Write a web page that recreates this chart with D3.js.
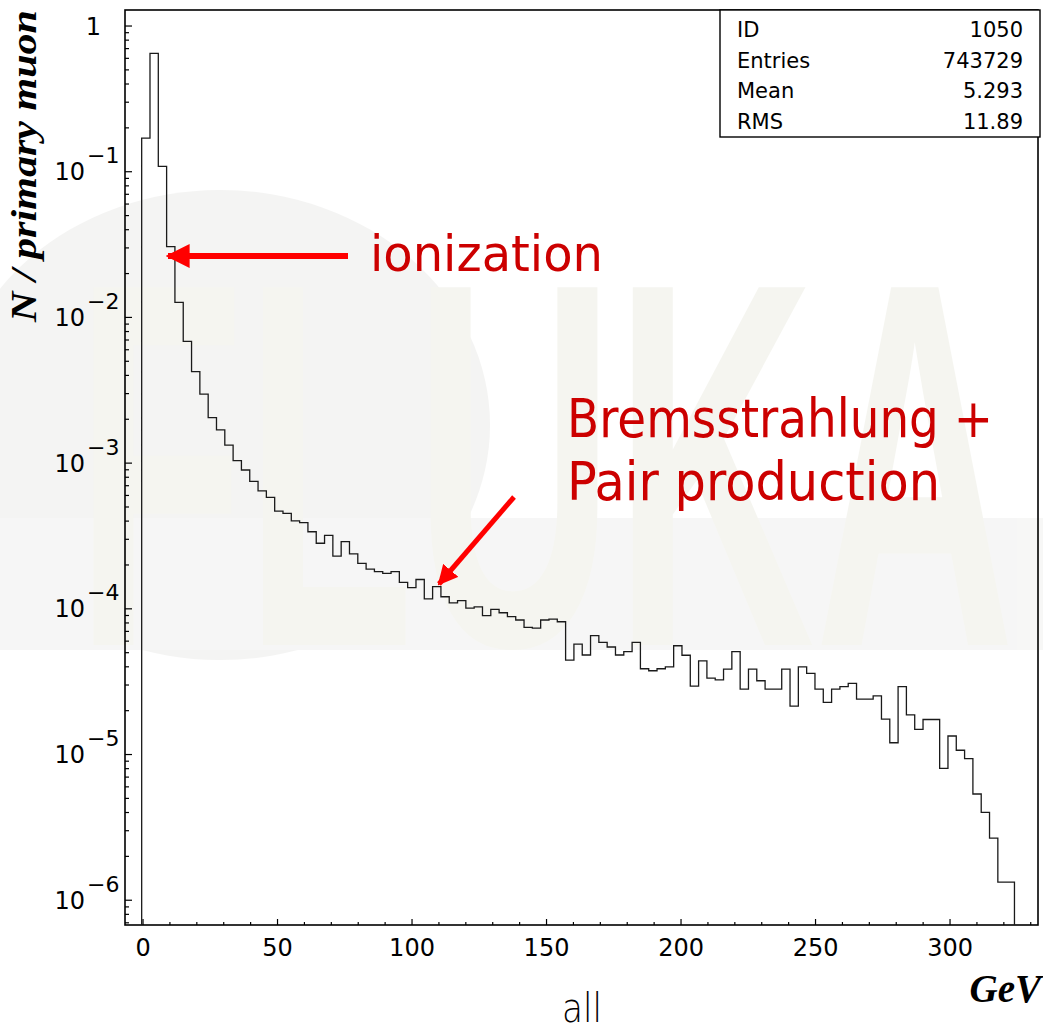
<!DOCTYPE html>
<meta charset="utf-8">
<style>
  body { margin: 0; background: #fff; }
  svg text { font-family: "DejaVu Sans", sans-serif; }
</style>
<script src="https://d3js.org/d3.v7.min.js"></script>
<div id="chart"></div>
<script>

// histogram contents, N / primary muon per bin
var counts = [
  0.170, 0.650, 0.109, 0.0306, 0.0127, 0.00685, 0.00424, 0.00298, 0.00205, 0.00169,
  0.00133, 0.00104, 8.97e-4, 7.50e-4, 6.46e-4, 5.82e-4, 4.69e-4, 4.52e-4, 4.01e-4, 3.90e-4,
  3.38e-4, 2.82e-4, 3.19e-4, 2.30e-4, 2.89e-4, 2.38e-4, 2.05e-4, 1.87e-4, 1.80e-4, 1.75e-4,
  1.80e-4, 1.52e-4, 1.40e-4, 1.59e-4, 1.17e-4, 1.42e-4, 1.21e-4, 1.10e-4, 1.14e-4, 1.01e-4,
  1.03e-4, 8.97e-5, 9.92e-5, 9.40e-5, 8.83e-5, 8.38e-5, 7.46e-5, 7.38e-5, 8.38e-5, 8.51e-5,
  8.15e-5, 4.45e-5, 5.73e-5, 4.82e-5, 6.54e-5, 5.89e-5, 5.47e-5, 4.82e-5, 5.08e-5, 5.89e-5,
  3.88e-5, 3.76e-5, 3.88e-5, 4.00e-5, 5.58e-5, 4.80e-5, 2.95e-5, 4.40e-5, 3.35e-5, 3.25e-5,
  3.86e-5, 5.08e-5, 2.81e-5, 3.86e-5, 3.21e-5, 2.81e-5, 2.81e-5, 3.86e-5, 2.15e-5, 4.00e-5,
  3.61e-5, 2.81e-5, 2.28e-5, 2.81e-5, 2.92e-5, 3.08e-5, 2.40e-5, 2.40e-5, 2.53e-5, 1.75e-5,
  1.205e-5, 2.92e-5, 1.87e-5, 1.49e-5, 1.74e-5, 1.74e-5, 8.04e-6, 1.34e-5, 1.07e-5, 9.36e-6,
  5.36e-6, 4.01e-6, 2.67e-6, 1.33e-6, 1.33e-6
];
var binStart = -0.5, binWidth = 3.09;

var xTicks = [0, 50, 100, 150, 200, 250, 300];
var yDecades = [0, -1, -2, -3, -4, -5, -6];

var statNames = ["ID", "Entries", "Mean", "RMS"];
var statValues = ["1050", "743729", "5.293", "11.89"];

var W = 1043, H = 1026;
var frame = {left: 125, right: 1038, top: 10, bottom: 925};

var svg = d3.select("#chart").append("svg")
    .attr("width", W).attr("height", H);

var x = d3.scaleLinear().domain([-6.7, 332.7]).range([frame.left, frame.right]);
var y = d3.scaleLog().domain([Math.pow(10, -6.17), Math.pow(10, 0.11)]).range([frame.bottom, frame.top]);

// faint FLUKA watermark in the background
var wm = svg.append("g").attr("opacity", 0.3);
wm.append("ellipse").attr("cx", 220).attr("cy", 425).attr("rx", 270).attr("ry", 235)
    .attr("fill", "#dcdcd8");
wm.append("rect").attr("x", 0).attr("y", 518).attr("width", W).attr("height", 132)
    .attr("fill", "#e4e4e2");
wm.append("text")
    .attr("x", 75).attr("y", 645)
    .attr("textLength", 940).attr("lengthAdjust", "spacingAndGlyphs")
    .style("font-family", "Liberation Sans")
    .style("font-weight", "bold")
    .style("font-size", "520px")
    .attr("fill", "#e0e0cf")
    .text("FLUKA");

// frame
svg.append("rect")
    .attr("x", frame.left).attr("y", frame.top)
    .attr("width", frame.right - frame.left).attr("height", frame.bottom - frame.top)
    .attr("fill", "none").attr("stroke", "#000").attr("stroke-width", 1.6);

// x ticks (inside, pointing up)
var xMinor = d3.range(0, 331, 10);
svg.append("g").selectAll("line").data(xMinor).enter().append("line")
    .attr("x1", function(d) { return x(d); }).attr("x2", function(d) { return x(d); })
    .attr("y1", frame.bottom)
    .attr("y2", function(d) { return frame.bottom - (d % 50 === 0 ? 6 : 3); })
    .attr("stroke", "#000").attr("stroke-width", 1.2);

svg.append("g").selectAll("text").data(xTicks).enter().append("text")
    .attr("x", function(d) { return x(d); })
    .attr("y", 956)
    .attr("text-anchor", "middle")
    .style("font-size", "24px")
    .text(function(d) { return d; });

// y ticks (inside, pointing right)
var yMinor = [];
yDecades.concat([-7]).forEach(function(e) {
  for (var k = 1; k <= 9; k++) {
    var v = k * Math.pow(10, e);
    if (v >= y.domain()[0] && v <= y.domain()[1]) yMinor.push({v: v, major: k === 1});
  }
});
svg.append("g").selectAll("line").data(yMinor).enter().append("line")
    .attr("x1", frame.left)
    .attr("x2", function(d) { return frame.left + (d.major ? 7 : 4); })
    .attr("y1", function(d) { return y(d.v); }).attr("y2", function(d) { return y(d.v); })
    .attr("stroke", "#000").attr("stroke-width", 1.2);

var yAxisG = svg.append("g").style("font-family", "Liberation Sans");
yAxisG.append("text")
    .attr("x", 101).attr("y", y(1) + 8.5)
    .attr("text-anchor", "end").style("font-size", "24px").text("1");
var yPow = yAxisG.selectAll(".pw").data(yDecades.filter(function(d) { return d !== 0; }))
    .enter().append("g");
yPow.append("text")
    .attr("x", 85).attr("y", function(d) { return y(Math.pow(10, d)) + 8.5; })
    .attr("text-anchor", "end").style("font-size", "24px")
    .text("10");
yPow.append("text")
    .attr("x", 87).attr("y", function(d) { return y(Math.pow(10, d)) - 8.5; })
    .style("font-size", "22px")
    .text(function(d) { return "\u2212" + (-d); });

// histogram outline
var pts = [[x(binStart), frame.bottom]];
counts.forEach(function(v, i) {
  pts.push([x(binStart + i * binWidth), y(v)]);
  pts.push([x(binStart + (i + 1) * binWidth), y(v)]);
});
pts.push([x(binStart + counts.length * binWidth), frame.bottom]);

svg.append("path")
    .attr("d", d3.line()(pts))
    .attr("fill", "none")
    .attr("stroke", "#1a1a1a")
    .attr("stroke-width", 1.3);

// stats box
svg.append("rect").attr("x", 720).attr("y", frame.top).attr("width", 320).attr("height", 127)
    .attr("fill", "#fff").attr("stroke", "#000").attr("stroke-width", 1.4);
var st = svg.append("g").style("font-size", "21px");
st.selectAll(".sn").data(statNames).enter().append("text")
    .attr("x", 737).attr("y", function(d, i) { return 37 + i * 30.5; })
    .text(function(d) { return d; });
st.selectAll(".sv").data(statValues).enter().append("text")
    .attr("x", 1023).attr("y", function(d, i) { return 37 + i * 30.5; })
    .attr("text-anchor", "end")
    .text(function(d) { return d; });

// axis titles
svg.append("text")
    .attr("transform", "translate(36,166) rotate(-90)")
    .attr("text-anchor", "middle")
    .attr("textLength", 312).attr("lengthAdjust", "spacingAndGlyphs")
    .style("font-family", "Liberation Serif")
    .style("font-style", "italic").style("font-weight", "bold")
    .style("font-size", "36px")
    .text("N / primary muon");

svg.append("text")
    .attr("x", 1041).attr("y", 1002)
    .attr("text-anchor", "end")
    .style("font-family", "Liberation Serif")
    .style("font-style", "italic").style("font-weight", "bold")
    .style("font-size", "39px")
    .text("GeV");

svg.append("text")
    .attr("x", 562).attr("y", 1022)
    .attr("textLength", 40).attr("lengthAdjust", "spacingAndGlyphs")
    .style("font-size", "40px")
    .style("font-weight", "200")
    .text("all");

// annotations
var red = "#cc0000";
svg.append("defs").append("marker")
    .attr("id", "head").attr("viewBox", "0 0 10 10")
    .attr("refX", 9).attr("refY", 5)
    .attr("markerWidth", 4).attr("markerHeight", 4)
    .attr("orient", "auto")
  .append("path").attr("d", "M0,0L10,5L0,10z").attr("fill", "#ff0000");

svg.append("line")
    .attr("x1", 348).attr("y1", 256).attr("x2", 168).attr("y2", 256)
    .attr("stroke", "#ff0000").attr("stroke-width", 6)
    .attr("marker-end", "url(#head)");

svg.append("line")
    .attr("x1", 514).attr("y1", 497).attr("x2", 439).attr("y2", 584)
    .attr("stroke", "#ff0000").attr("stroke-width", 5)
    .attr("marker-end", "url(#head)");

svg.append("text")
    .attr("x", 370).attr("y", 271)
    .attr("textLength", 233).attr("lengthAdjust", "spacingAndGlyphs")
    .style("font-size", "50px").attr("fill", red)
    .text("ionization");

svg.append("text")
    .attr("x", 567).attr("y", 437)
    .attr("textLength", 426).attr("lengthAdjust", "spacingAndGlyphs")
    .style("font-size", "53px").attr("fill", red)
    .text("Bremsstrahlung +");

svg.append("text")
    .attr("x", 567).attr("y", 500)
    .attr("textLength", 373).attr("lengthAdjust", "spacingAndGlyphs")
    .style("font-size", "53px").attr("fill", red)
    .text("Pair production");

</script>
